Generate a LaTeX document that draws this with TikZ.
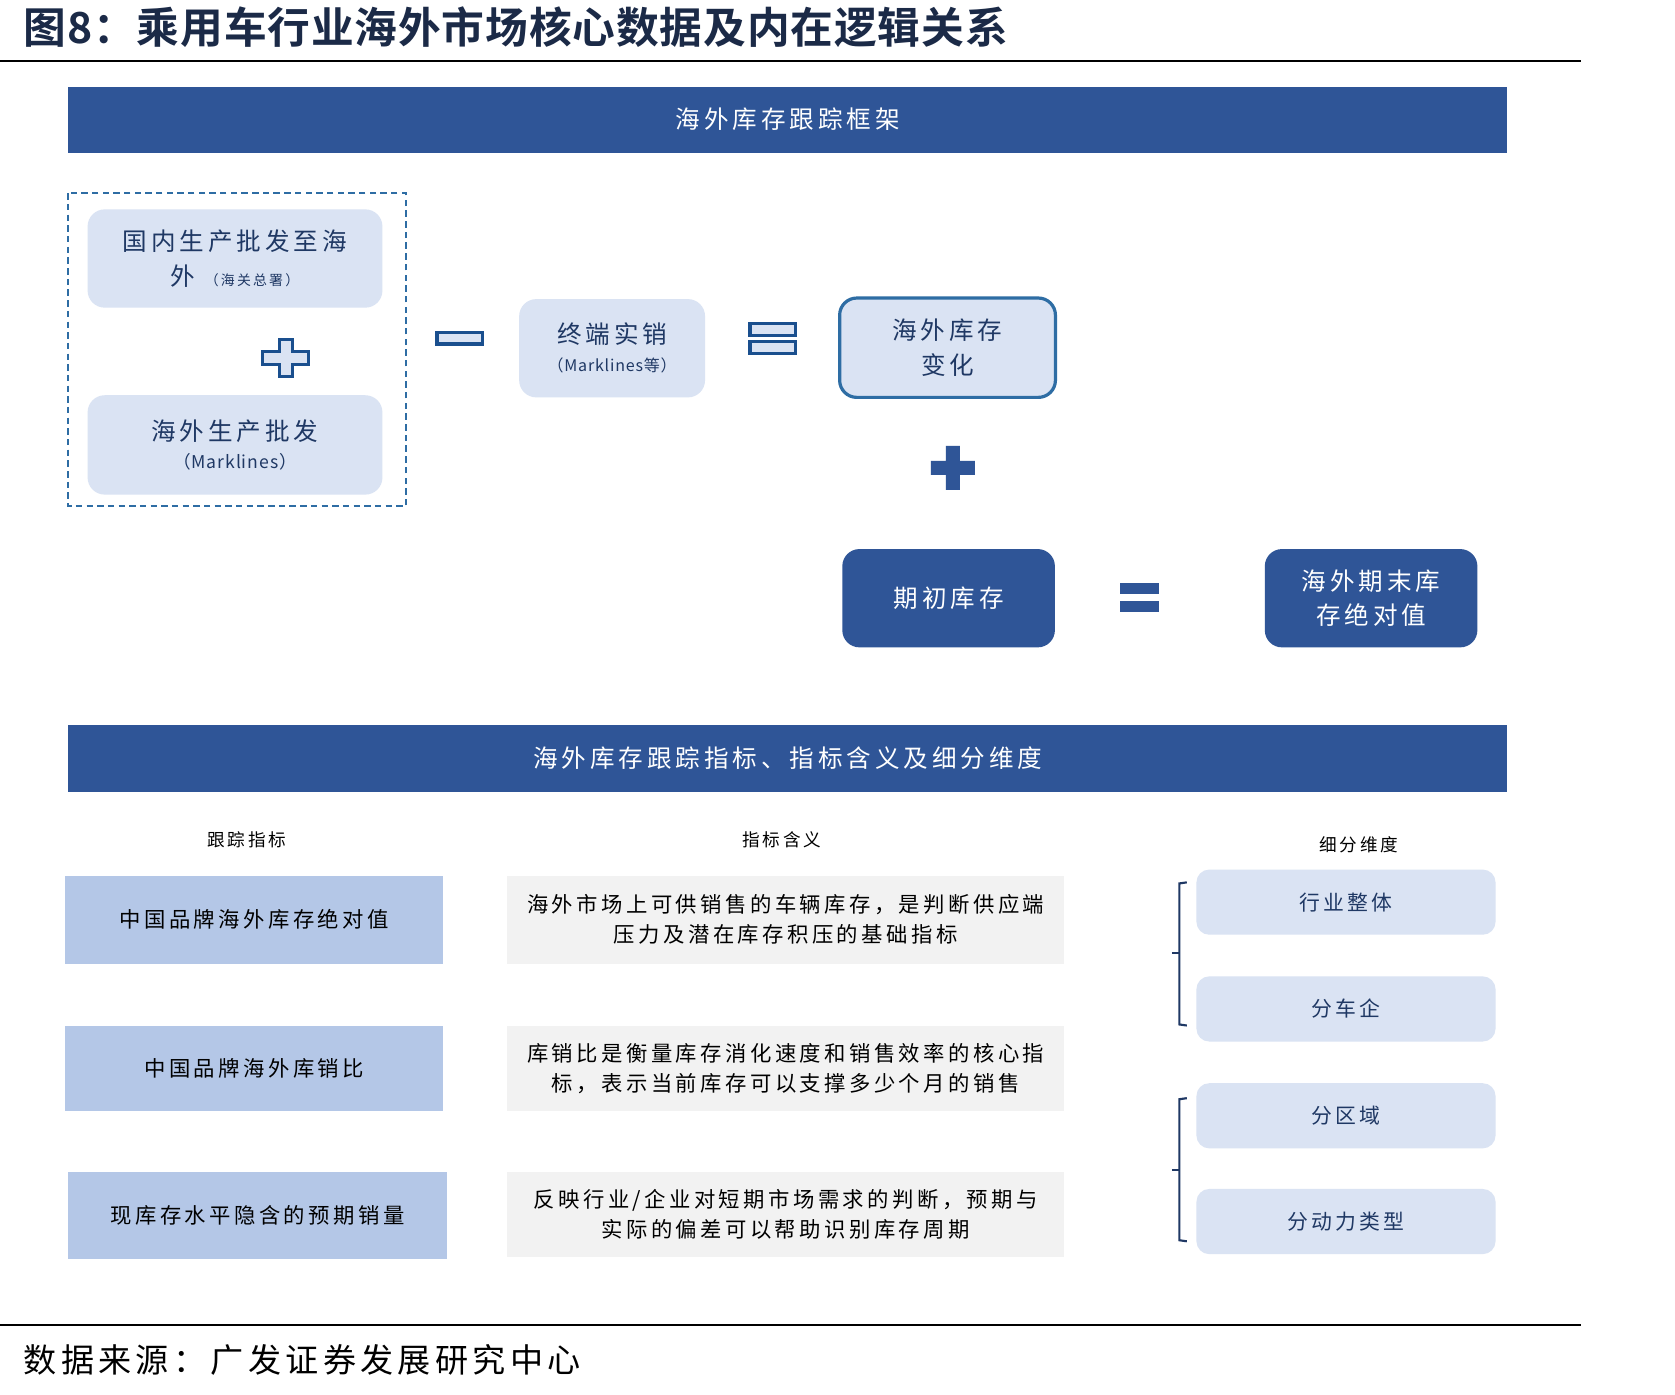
\documentclass[tikz,border=0pt]{standalone}
\usepackage{fontspec}
\newfontfamily\cjk[LetterSpace=16]{Noto Sans CJK SC}
\newfontfamily\cjkn[LetterSpace=5]{Noto Sans CJK SC}
\newfontfamily\cjktitle[LetterSpace=2,UprightFont={* Bold}]{Noto Sans CJK SC}
\newfontfamily\cjksrc[LetterSpace=13]{Noto Sans CJK SC}
\definecolor{navy}{HTML}{2F5597}
\definecolor{lightb}{HTML}{DAE3F3}
\definecolor{midb}{HTML}{B4C7E7}
\definecolor{greybg}{HTML}{F2F2F2}
\definecolor{txtblue}{HTML}{1F3864}
\definecolor{opblue}{HTML}{1A4F8E}
\definecolor{borderblue}{HTML}{2E6DA4}
\definecolor{titlec}{HTML}{1B2A47}
\tikzset{
  banner/.style={fill=navy, text=white, minimum width=1347pt, minimum height=62pt, inner sep=0pt, font=\cjk\fontsize{23}{28}\selectfont},
  lbox/.style={fill=lightb, rounded corners=16pt, text=txtblue, align=center, inner sep=0pt, font=\cjk\fontsize{23}{32}\selectfont},
  dbox/.style={fill=navy, rounded corners=16pt, text=white, align=center, inner sep=0pt, minimum width=199pt, minimum height=92pt, font=\cjk\fontsize{23}{32}\selectfont},
  hdr/.style={text=black, inner sep=0pt, font=\cjk\fontsize{16.5}{20}\selectfont},
  leftcell/.style={fill=midb, text=black, minimum width=354pt, inner sep=0pt, font=\cjk\fontsize{20}{28}\selectfont},
  midcell/.style={fill=greybg, text=black, align=center, minimum width=521pt, inner sep=0pt, font=\cjk\fontsize{20}{28}\selectfont},
  dimbox/.style={fill=lightb, rounded corners=12pt, text=txtblue, minimum width=280pt, minimum height=61pt, inner sep=0pt, font=\cjk\fontsize{19.5}{24}\selectfont},
  opline/.style={draw=opblue, fill=lightb, line width=3pt},
  opsolid/.style={fill=navy},
  bracket/.style={draw=txtblue, line width=2pt},
  rule/.style={draw=black, line width=2pt}
}
\begin{document}
\begin{tikzpicture}[x=1pt,y=-1pt]
\path[use as bounding box, fill=white] (0,0) rectangle (1568,1305);

% title and rules
\node[anchor=west, text=titlec, inner sep=0pt, font=\cjktitle\fontsize{40}{44}\selectfont] (title) at (22,25) {图8：乘用车行业海外市场核心数据及内在逻辑关系};
\coordinate (r1a) at (0,57); \coordinate (r1b) at (1480,57);
\draw[rule] (r1a) -- (r1b);
\coordinate (r2a) at (0,1240); \coordinate (r2b) at (1480,1240);
\draw[rule] (r2a) -- (r2b);
\node[anchor=west, text=black, inner sep=0pt, font=\cjksrc\fontsize{31}{34}\selectfont] (src) at (22,1273) {数据来源：广发证券发展研究中心};

% banners
\node[banner] (ban1) at (737.5,112) {海外库存跟踪框架};
\node[banner] (ban2) at (737.5,710) {海外库存跟踪指标、指标含义及细分维度};

% dashed group
\draw[draw=borderblue, line width=2pt, dash pattern=on 6pt off 4pt] (64,181) rectangle (380,474);

% left boxes
\node[lbox, minimum width=276pt, minimum height=92pt] (boxA) at (220,242) {国内生产批发至海\\外 {\fontsize{13}{32}\selectfont （海关总署）}};
\node[lbox, minimum width=276pt, minimum height=93pt] (boxB) at (220,416.5) {海外生产批发\\[-6pt]{\cjkn\fontsize{16.5}{20}\selectfont （Marklines）}};

% outline plus
\draw[opline] (261.5,317.5) -- (273.5,317.5) -- (273.5,329) -- (289,329) -- (289,341) -- (273.5,341) -- (273.5,352.5) -- (261.5,352.5) -- (261.5,341) -- (246,341) -- (246,329) -- (261.5,329) -- cycle;
% outline minus
\draw[opline] (409,311) rectangle (452,322);

% terminal sales
\node[lbox, minimum width=174pt, minimum height=92pt] (boxC) at (573,326) {终端实销\\[-6pt]{\cjkn\fontsize{15}{20}\selectfont （Marklines等）}};

% outline equals
\draw[opline] (702,303) rectangle (745,314);
\draw[opline] (702,320) rectangle (745,331);

% change box
\node[lbox, draw=borderblue, line width=3pt, minimum width=202pt, minimum height=93pt] (boxD) at (887,325.5) {海外库存\\变化};

% solid plus
\fill[opsolid] (885.5,417.5) -- (898.5,417.5) -- (898.5,431.5) -- (912.5,431.5) -- (912.5,444.5) -- (898.5,444.5) -- (898.5,458.5) -- (885.5,458.5) -- (885.5,444.5) -- (871.5,444.5) -- (871.5,431.5) -- (885.5,431.5) -- cycle;

\node[dbox] (boxE) at (888,560) {期初库存};
\fill[opsolid] (1048,546) rectangle (1085,556);
\fill[opsolid] (1048,563) rectangle (1085,573);
\node[dbox] (boxF) at (1283.5,560) {海外期末库\\存绝对值};

% headers
\node[hdr] (h1) at (231,786) {跟踪指标};
\node[hdr] (h2) at (732,786) {指标含义};
\node[hdr] (h3) at (1272,791) {细分维度};

% table rows
\node[leftcell, minimum height=82pt] (l1) at (238,861) {中国品牌海外库存绝对值};
\node[leftcell, minimum height=80pt] (l2) at (238,1000) {中国品牌海外库销比};
\node[leftcell, minimum height=82pt] (l3) at (241,1138) {现库存水平隐含的预期销量};

\node[midcell, minimum height=82pt] (m1) at (735.5,861) {海外市场上可供销售的车辆库存，是判断供应端\\压力及潜在库存积压的基础指标};
\node[midcell, minimum height=80pt] (m2) at (735.5,1000) {库销比是衡量库存消化速度和销售效率的核心指\\标，表示当前库存可以支撑多少个月的销售};
\node[midcell, minimum height=80pt] (m3) at (735.5,1137) {反映行业/企业对短期市场需求的判断，预期与\\实际的偏差可以帮助识别库存周期};

% dimension boxes
\node[dimbox] (d1) at (1260,844.5) {行业整体};
\node[dimbox] (d2) at (1260,944.5) {分车企};
\node[dimbox] (d3) at (1260,1044.5) {分区域};
\node[dimbox] (d4) at (1260,1143.5) {分动力类型};

% brackets
\draw[bracket] (1111,826) -- (1104,827) -- (1104,959) -- (1111,960);
\draw[bracket] (1097,892) -- (1104,892);
\draw[bracket] (1111,1028) -- (1104,1029) -- (1104,1161) -- (1111,1162);
\draw[bracket] (1097,1095) -- (1104,1095);
\end{tikzpicture}
\end{document}
